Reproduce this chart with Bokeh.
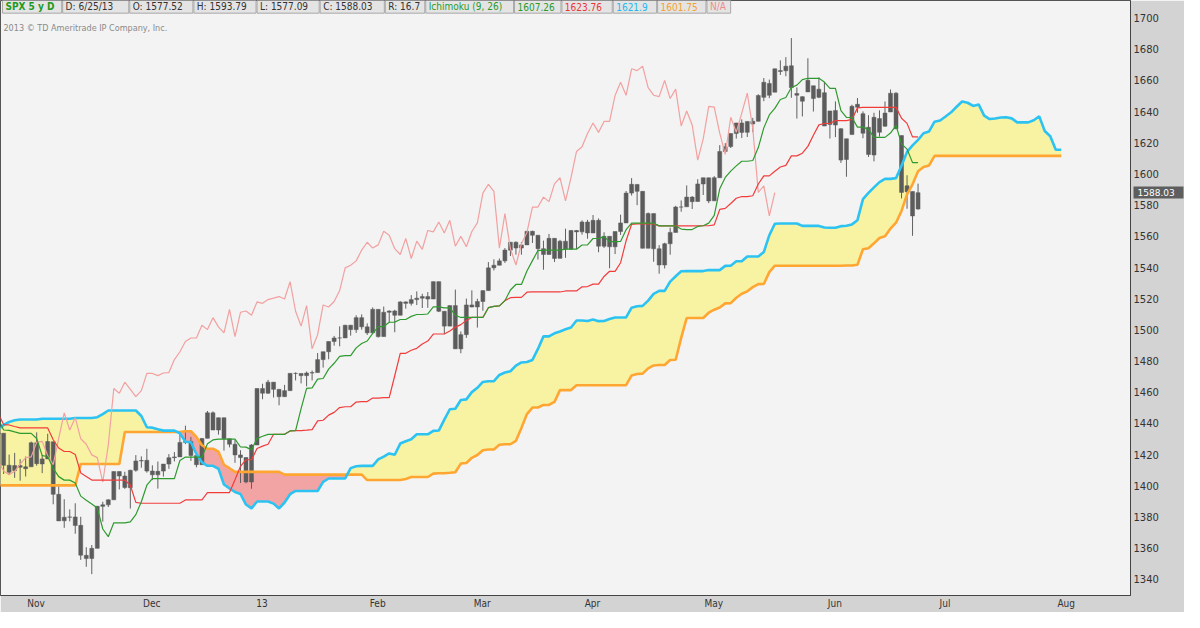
import numpy as np
from bokeh.plotting import figure
from bokeh.models import Range1d, FixedTicker, LinearAxis
from bokeh.embed import file_html
from bokeh.resources import INLINE
from bokeh.core.properties import value

# ---------------- data (bar index 0 = 22 Oct 2012, 167 = 25 Jun 2013) ----------------
opens = [1433.21, 1433.74, 1413.20, 1409.74, 1412.97, 1410.99, 1412.20, 1427.59, 1414.02, 1417.26,
         1428.27, 1394.53, 1377.55, 1379.86, 1380.03, 1374.64, 1355.41, 1353.36, 1359.88, 1386.82,
         1387.79, 1391.03, 1409.15, 1406.29, 1398.77, 1409.96, 1415.95, 1416.34, 1409.46, 1407.05,
         1409.43, 1413.95, 1418.07, 1418.55, 1427.84, 1428.48, 1419.45, 1413.54, 1430.47, 1446.79,
         1435.81, 1443.67, 1430.15, 1426.66, 1419.83, 1418.10, 1402.43, 1426.19, 1462.42, 1459.37,
         1466.47, 1461.89, 1457.15, 1461.02, 1472.12, 1472.05, 1470.67, 1472.33, 1472.63, 1480.95,
         1485.98, 1492.56, 1494.81, 1494.82, 1502.96, 1500.18, 1507.84, 1501.96, 1498.11, 1513.17,
         1495.71, 1511.29, 1512.12, 1509.39, 1517.93, 1517.01, 1519.43, 1520.33, 1521.38, 1519.79,
         1530.94, 1511.95, 1502.42, 1515.60, 1487.85, 1496.94, 1515.99, 1514.68, 1518.20, 1525.20,
         1539.79, 1541.46, 1544.26, 1551.15, 1556.22, 1552.48, 1554.52, 1563.21, 1560.70, 1552.10,
         1548.34, 1558.71, 1545.90, 1556.89, 1551.69, 1563.75, 1562.86, 1569.18, 1562.17, 1570.25,
         1553.69, 1559.98, 1553.26, 1563.11, 1568.61, 1587.73, 1593.30, 1588.84, 1552.36, 1574.57,
         1552.03, 1541.61, 1555.25, 1562.50, 1578.78, 1578.93, 1585.16, 1582.34, 1593.58, 1597.55,
         1582.77, 1597.60, 1614.40, 1617.55, 1625.95, 1632.69, 1626.69, 1632.10, 1633.75, 1649.13,
         1658.07, 1652.45, 1665.71, 1666.20, 1669.39, 1651.62, 1646.67, 1652.63, 1656.57, 1649.14,
         1652.13, 1631.71, 1640.73, 1629.05, 1609.29, 1625.27, 1644.67, 1638.64, 1629.94, 1612.15,
         1635.52, 1630.64, 1639.77, 1651.83, 1624.62, 1588.62, 1588.77, 1577.52]
highs = [1435.46, 1433.74, 1420.04, 1421.12, 1417.09, 1418.76, 1428.35, 1434.27, 1419.90, 1433.38,
         1428.27, 1401.23, 1391.39, 1384.87, 1388.81, 1380.13, 1360.62, 1362.03, 1386.89, 1389.77,
         1391.25, 1409.16, 1409.15, 1409.01, 1410.31, 1419.70, 1418.86, 1423.73, 1413.14, 1415.56,
         1413.95, 1420.34, 1421.64, 1434.27, 1438.59, 1431.36, 1419.45, 1430.67, 1448.00, 1447.75,
         1443.70, 1443.67, 1430.15, 1429.42, 1422.80, 1418.10, 1426.74, 1462.43, 1465.47, 1467.94,
         1466.47, 1461.89, 1464.73, 1472.30, 1472.75, 1472.05, 1473.31, 1473.96, 1485.16, 1485.98,
         1492.56, 1496.13, 1502.27, 1503.26, 1503.23, 1509.35, 1509.94, 1504.19, 1514.41, 1513.17,
         1514.96, 1512.53, 1512.90, 1518.31, 1518.31, 1522.29, 1524.69, 1523.14, 1524.24, 1530.94,
         1530.94, 1511.95, 1515.64, 1525.84, 1498.99, 1520.08, 1525.34, 1519.99, 1525.27, 1543.47,
         1545.25, 1545.78, 1552.48, 1556.27, 1556.77, 1556.39, 1563.32, 1563.62, 1560.70, 1557.25,
         1561.56, 1558.71, 1557.74, 1564.91, 1563.95, 1564.07, 1570.28, 1570.57, 1573.66, 1571.47,
         1562.60, 1559.98, 1563.07, 1573.89, 1589.07, 1597.35, 1593.30, 1588.84, 1575.35, 1574.57,
         1554.38, 1555.89, 1565.55, 1579.58, 1583.00, 1592.64, 1585.78, 1596.65, 1597.57, 1597.55,
         1598.60, 1618.46, 1619.77, 1626.03, 1632.78, 1635.01, 1633.70, 1636.00, 1651.10, 1661.49,
         1660.51, 1667.47, 1672.84, 1674.93, 1687.18, 1655.50, 1649.78, 1674.21, 1656.57, 1661.91,
         1658.99, 1640.42, 1646.53, 1629.31, 1622.56, 1644.40, 1648.69, 1640.13, 1637.71, 1639.25,
         1640.80, 1646.50, 1654.19, 1652.45, 1624.62, 1599.19, 1588.77, 1593.79]
lows = [1422.06, 1407.56, 1407.10, 1405.14, 1403.28, 1405.95, 1412.20, 1412.91, 1408.13, 1417.26,
        1388.14, 1377.51, 1373.03, 1377.19, 1369.26, 1352.50, 1348.05, 1343.35, 1359.88, 1377.04,
        1386.39, 1391.03, 1397.68, 1398.03, 1385.43, 1409.04, 1411.63, 1408.46, 1403.65, 1398.23,
        1405.93, 1410.90, 1415.64, 1418.55, 1426.76, 1416.00, 1411.88, 1413.54, 1430.47, 1435.80,
        1432.82, 1422.58, 1424.66, 1414.75, 1401.80, 1401.58, 1398.11, 1426.19, 1455.53, 1458.99,
        1456.62, 1451.64, 1457.15, 1461.02, 1467.58, 1465.69, 1463.76, 1467.60, 1472.63, 1475.81,
        1481.16, 1489.90, 1489.46, 1494.82, 1496.33, 1498.09, 1500.11, 1496.76, 1498.11, 1495.02,
        1495.71, 1504.71, 1498.49, 1509.39, 1513.61, 1515.61, 1515.93, 1514.02, 1514.14, 1519.79,
        1511.41, 1497.29, 1502.42, 1487.85, 1485.01, 1494.88, 1514.46, 1501.48, 1512.29, 1525.20,
        1538.11, 1541.46, 1542.94, 1547.36, 1548.24, 1548.25, 1554.52, 1555.74, 1545.13, 1538.57,
        1548.34, 1543.55, 1545.90, 1546.22, 1551.69, 1551.90, 1561.08, 1558.47, 1562.17, 1549.80,
        1552.52, 1539.50, 1548.63, 1560.92, 1568.61, 1586.17, 1579.97, 1552.28, 1552.36, 1543.69,
        1536.03, 1539.40, 1548.19, 1562.50, 1575.80, 1578.93, 1577.56, 1582.34, 1586.50, 1581.28,
        1582.77, 1597.60, 1614.21, 1616.64, 1622.70, 1623.09, 1623.71, 1626.74, 1633.75, 1646.68,
        1648.60, 1652.45, 1663.52, 1662.67, 1648.86, 1635.53, 1636.88, 1652.63, 1640.05, 1648.61,
        1630.74, 1622.72, 1623.62, 1607.09, 1598.23, 1625.27, 1639.26, 1622.92, 1610.92, 1608.07,
        1623.96, 1630.34, 1639.77, 1628.91, 1584.32, 1577.70, 1560.33, 1577.09]
closes = [1433.82, 1413.11, 1408.75, 1412.97, 1411.94, 1412.16, 1427.59, 1414.20, 1417.26, 1428.39,
          1394.53, 1377.51, 1379.85, 1380.03, 1374.53, 1355.49, 1353.33, 1359.88, 1386.89, 1387.81,
          1391.03, 1409.15, 1406.29, 1398.94, 1409.93, 1415.95, 1416.18, 1409.46, 1407.05, 1409.28,
          1413.94, 1418.07, 1418.55, 1427.84, 1428.48, 1419.45, 1413.58, 1430.36, 1446.79, 1435.81,
          1443.69, 1430.15, 1426.66, 1419.83, 1418.10, 1402.43, 1426.19, 1462.42, 1459.37, 1466.47,
          1461.89, 1457.15, 1461.02, 1472.12, 1472.05, 1470.68, 1472.34, 1472.63, 1480.94, 1485.98,
          1492.56, 1494.81, 1494.82, 1502.96, 1500.18, 1507.84, 1501.96, 1498.11, 1513.17, 1495.71,
          1511.29, 1512.12, 1509.39, 1517.93, 1517.01, 1519.43, 1520.33, 1521.38, 1519.79, 1530.94,
          1511.95, 1502.42, 1515.60, 1487.85, 1496.94, 1515.99, 1514.68, 1518.20, 1525.20, 1539.79,
          1541.46, 1544.26, 1551.18, 1556.22, 1552.48, 1554.52, 1563.23, 1560.70, 1552.10, 1548.34,
          1558.71, 1545.80, 1556.89, 1551.69, 1563.77, 1562.85, 1569.19, 1562.17, 1570.25, 1553.69,
          1559.98, 1553.28, 1563.07, 1568.61, 1587.73, 1593.37, 1588.85, 1552.36, 1574.57, 1552.01,
          1541.61, 1555.25, 1562.50, 1578.78, 1578.79, 1585.16, 1582.24, 1593.61, 1597.57, 1582.70,
          1597.59, 1614.42, 1617.50, 1625.96, 1632.69, 1626.67, 1633.70, 1633.77, 1650.34, 1658.78,
          1650.47, 1667.47, 1666.29, 1669.16, 1655.35, 1650.51, 1649.60, 1660.06, 1648.36, 1654.41,
          1630.74, 1640.42, 1631.38, 1608.90, 1622.56, 1643.38, 1642.81, 1626.13, 1612.52, 1636.36,
          1626.73, 1639.04, 1651.81, 1628.93, 1588.19, 1592.43, 1573.09, 1588.03]
tenkan = [1443.00, 1435.80, 1435.56, 1434.58, 1433.65, 1433.65, 1433.65, 1430.31, 1419.37, 1418.78,
          1411.21, 1405.89, 1403.65, 1403.65, 1401.77, 1393.39, 1390.72, 1388.37, 1385.81, 1372.29,
          1367.37, 1376.26, 1376.26, 1376.26, 1376.83, 1381.53, 1389.79, 1400.39, 1404.58, 1404.58,
          1404.58, 1404.58, 1404.58, 1416.25, 1418.41, 1418.41, 1418.41, 1418.41, 1426.97, 1429.45,
          1429.94, 1429.94, 1429.94, 1429.94, 1424.90, 1424.79, 1423.06, 1430.27, 1431.79, 1433.03,
          1433.03, 1433.03, 1433.03, 1435.21, 1435.43, 1449.47, 1462.48, 1462.80, 1468.40, 1468.81,
          1474.86, 1478.58, 1483.02, 1483.51, 1483.51, 1488.48, 1491.29, 1492.88, 1497.79, 1501.94,
          1502.21, 1504.89, 1504.99, 1506.67, 1506.67, 1508.66, 1509.86, 1509.86, 1510.20, 1514.72,
          1514.72, 1514.12, 1514.12, 1509.40, 1507.98, 1507.98, 1507.98, 1507.98, 1507.98, 1514.24,
          1515.13, 1515.40, 1518.75, 1525.58, 1529.13, 1529.13, 1537.81, 1544.41, 1550.87, 1551.10,
          1551.10, 1551.10, 1551.10, 1551.74, 1551.74, 1551.74, 1554.43, 1554.57, 1558.61, 1558.61,
          1559.78, 1556.58, 1556.58, 1556.70, 1564.29, 1568.43, 1568.43, 1568.43, 1568.43, 1568.43,
          1566.69, 1566.69, 1566.69, 1566.69, 1564.67, 1564.34, 1564.34, 1566.34, 1566.80, 1568.49,
          1573.40, 1590.48, 1597.79, 1601.80, 1605.17, 1608.15, 1608.15, 1608.64, 1616.94, 1629.55,
          1637.85, 1642.06, 1647.77, 1649.01, 1655.45, 1656.96, 1660.47, 1661.36, 1661.36, 1661.36,
          1658.96, 1654.95, 1654.95, 1640.65, 1636.22, 1636.22, 1630.07, 1630.07, 1628.61, 1623.46,
          1623.46, 1623.46, 1626.21, 1631.13, 1619.26, 1615.95, 1607.26, 1607.26]
kijun = [1446.51, 1439.26, 1439.03, 1438.05, 1437.12, 1437.12, 1437.12, 1437.12, 1437.12, 1437.12,
         1429.55, 1424.24, 1422.00, 1422.00, 1420.11, 1408.26, 1406.04, 1403.69, 1403.69, 1403.69,
         1403.69, 1403.69, 1403.69, 1403.69, 1400.35, 1389.41, 1388.81, 1388.81, 1388.81, 1388.81,
         1388.81, 1388.81, 1388.81, 1388.81, 1390.97, 1390.97, 1390.97, 1390.97, 1395.68, 1395.68,
         1395.68, 1395.68, 1395.68, 1403.94, 1412.52, 1416.72, 1416.72, 1423.93, 1425.45, 1426.69,
         1433.03, 1433.03, 1433.03, 1435.21, 1435.43, 1435.43, 1435.71, 1436.04, 1441.64, 1442.05,
         1445.34, 1447.12, 1450.19, 1450.69, 1450.69, 1453.73, 1454.03, 1454.03, 1456.26, 1456.26,
         1456.54, 1456.54, 1470.58, 1484.98, 1484.98, 1486.97, 1488.17, 1490.92, 1492.86, 1497.35,
         1497.35, 1497.35, 1499.27, 1501.79, 1503.38, 1506.05, 1507.98, 1507.98, 1507.98, 1514.24,
         1515.13, 1515.40, 1518.75, 1520.64, 1520.89, 1520.89, 1524.17, 1524.32, 1524.32, 1524.32,
         1524.32, 1524.32, 1524.32, 1524.96, 1524.96, 1524.96, 1527.65, 1527.79, 1529.34, 1529.34,
         1534.27, 1537.57, 1537.57, 1543.09, 1557.14, 1567.73, 1567.96, 1567.96, 1567.96, 1567.96,
         1566.69, 1566.69, 1566.69, 1566.69, 1566.69, 1566.69, 1566.69, 1566.69, 1566.80, 1566.80,
         1567.32, 1577.25, 1577.90, 1581.03, 1584.41, 1585.52, 1585.52, 1586.02, 1593.57, 1598.76,
         1598.76, 1601.75, 1604.44, 1605.48, 1611.61, 1611.61, 1613.29, 1617.69, 1624.84, 1631.49,
         1632.37, 1632.37, 1634.23, 1634.23, 1634.23, 1634.98, 1642.39, 1642.71, 1642.71, 1642.71,
         1642.71, 1642.71, 1642.71, 1642.71, 1635.75, 1632.44, 1623.76, 1623.76]
# leading spans, index 0 .. 193 (projected 26 bars ahead)
senkou_a = [1436.0, 1439.0, 1441.0, 1442.0, 1442.5, 1442.5, 1442.5, 1442.5, 1443.0, 1443.0,
            1443.0, 1443.0, 1443.0, 1443.0, 1443.5, 1443.5, 1443.5, 1443.5, 1444.0, 1446.0,
            1448.3, 1448.3, 1448.3, 1448.3, 1448.3, 1448.3, 1444.75, 1437.53, 1437.30, 1436.32,
            1435.39, 1435.39, 1435.39, 1433.72, 1428.25, 1427.95, 1420.38, 1415.07, 1412.83, 1412.83,
            1410.94, 1400.83, 1398.38, 1396.03, 1394.75, 1387.99, 1385.53, 1389.98, 1389.98, 1389.98,
            1388.59, 1385.47, 1389.30, 1394.60, 1396.70, 1396.70, 1396.70, 1396.70, 1396.70, 1402.53,
            1404.69, 1404.69, 1404.69, 1404.69, 1411.33, 1412.57, 1412.81, 1412.81, 1412.81, 1416.94,
            1418.71, 1420.76, 1419.89, 1427.10, 1428.62, 1429.86, 1433.03, 1433.03, 1433.03, 1435.21,
            1435.43, 1442.45, 1449.10, 1449.42, 1455.02, 1455.43, 1460.10, 1462.85, 1466.61, 1467.10,
            1467.10, 1471.11, 1472.66, 1473.46, 1477.03, 1479.10, 1479.38, 1480.72, 1487.79, 1495.83,
            1495.83, 1497.82, 1499.02, 1500.39, 1501.53, 1506.04, 1506.04, 1505.74, 1506.70, 1505.60,
            1505.68, 1507.02, 1507.98, 1507.98, 1507.98, 1514.24, 1515.13, 1515.40, 1518.75, 1523.11,
            1525.01, 1525.01, 1530.99, 1534.37, 1537.60, 1537.71, 1537.71, 1537.71, 1537.71, 1538.35,
            1538.35, 1538.35, 1541.04, 1541.18, 1543.98, 1543.98, 1547.03, 1547.08, 1547.08, 1549.90,
            1560.72, 1568.08, 1568.20, 1568.20, 1568.20, 1568.20, 1566.69, 1566.69, 1566.69, 1566.69,
            1565.68, 1565.52, 1565.52, 1566.52, 1566.80, 1567.65, 1570.36, 1583.87, 1587.85, 1591.42,
            1594.79, 1596.84, 1596.84, 1597.33, 1605.26, 1614.16, 1618.31, 1621.91, 1626.11, 1627.25,
            1633.53, 1634.29, 1636.88, 1639.53, 1643.10, 1646.43, 1645.67, 1643.66, 1644.59, 1637.44,
            1635.23, 1635.60, 1636.23, 1636.39, 1635.66, 1633.09, 1633.09, 1633.09, 1634.46, 1636.92,
            1627.51, 1624.20, 1615.51, 1615.51]
senkou_b = [1400.3, 1400.3, 1400.3, 1400.3, 1400.3, 1400.3, 1400.3, 1400.3, 1400.3, 1400.3,
            1400.3, 1400.3, 1400.3, 1400.3, 1400.3, 1414.0, 1414.0, 1414.0, 1414.0, 1414.0,
            1414.0, 1414.0, 1414.0, 1434.5, 1434.5, 1434.5, 1434.5, 1434.5, 1434.5, 1434.5,
            1434.5, 1434.5, 1434.5, 1434.5, 1435.0, 1435.0, 1431.30, 1426.00, 1423.77, 1423.77,
            1421.90, 1413.50, 1411.28, 1408.93, 1408.93, 1408.93, 1408.93, 1408.93, 1408.93, 1408.93,
            1408.93, 1408.93, 1407.16, 1407.16, 1407.16, 1407.16, 1407.16, 1407.16, 1407.16, 1407.16,
            1407.16, 1407.16, 1407.16, 1407.16, 1407.16, 1407.16, 1407.16, 1403.69, 1403.69, 1403.69,
            1403.69, 1403.69, 1403.69, 1403.69, 1404.41, 1405.65, 1405.65, 1405.65, 1405.65, 1407.83,
            1408.05, 1408.05, 1408.33, 1408.66, 1414.26, 1414.67, 1417.96, 1419.74, 1422.81, 1423.31,
            1423.31, 1426.35, 1426.65, 1426.65, 1428.88, 1437.15, 1446.00, 1450.20, 1450.20, 1451.87,
            1451.87, 1453.86, 1461.40, 1461.40, 1461.40, 1464.53, 1464.53, 1464.53, 1464.53, 1464.53,
            1464.53, 1464.53, 1464.53, 1464.53, 1464.53, 1470.79, 1471.68, 1471.95, 1475.30, 1477.19,
            1477.44, 1477.44, 1480.72, 1480.87, 1494.91, 1507.63, 1507.63, 1507.63, 1507.63, 1511.03,
            1512.97, 1514.34, 1517.02, 1517.17, 1520.63, 1523.15, 1524.74, 1527.41, 1529.34, 1529.45,
            1537.04, 1541.18, 1541.18, 1541.18, 1541.18, 1541.18, 1541.18, 1541.18, 1541.18, 1541.18,
            1541.18, 1541.18, 1541.18, 1541.18, 1541.29, 1541.29, 1541.81, 1551.74, 1552.39, 1555.52,
            1558.90, 1560.01, 1564.95, 1568.74, 1576.29, 1586.89, 1593.35, 1601.75, 1604.44, 1605.48,
            1611.61, 1611.61, 1611.61, 1611.61, 1611.61, 1611.61, 1611.61, 1611.61, 1611.61, 1611.61,
            1611.61, 1611.61, 1611.61, 1611.61, 1611.61, 1611.61, 1611.61, 1611.61, 1611.61, 1611.61,
            1611.61, 1611.61, 1611.61, 1611.61]
CHIKOU_SHIFT = 26
month_labels = ["Nov", "Dec", "13", "Feb", "Mar", "Apr", "May", "Jun", "Jul", "Aug"]
month_first_bar = [6, 27, 47, 68, 87, 107, 129, 151, 171, 193]
price_ticks = list(range(1340, 1701, 20))
symbol_item = ("SPX 5 y D", 2, 62, "#1f9a1f")
header_items = [
    ("D: 6/25/13", 63, 130, "#333333"),
    ("O: 1577.52", 131, 195, "#333333"), ("H: 1593.79", 196, 259, "#333333"),
    ("L: 1577.09", 260, 323, "#333333"), ("C: 1588.03", 324, 389, "#333333"),
    ("R: 16.7", 390, 430, "#333333"), ("Ichimoku (9, 26)", 431, 520, "#2a9a2a"),
    ("1607.26", 521, 568, "#2a9a2a"), ("1623.76", 569, 620, "#ee3333"),
    ("1621.9", 621, 665, "#22b8ee"), ("1601.75", 666, 715, "#f5a030"),
    ("N/A", 716, 740, "#f08a8a"),
]
last_price = 1588.03

# ---------------- layout helpers: reference pixel -> data coordinate ----------------
W, H = 1184, 612
SX, SY = W / 1200, H / 628
BAR_PX, REF_BAR, REF_PX = 5.583, 17, 92.5
PX_PER_PT = 1.6
def bx(px):
    return REF_BAR + (px - REF_PX) / BAR_PX
def by(py):
    return 1700 - (py - 18) / PX_PER_PT

FRAME_W, FRAME_H = 1130, 595
p = figure(width=W, height=H, output_backend="svg", toolbar_location=None,
           x_range=Range1d(bx(0), bx(FRAME_W / SX)), y_range=Range1d(by(FRAME_H / SY), by(0)),
           y_axis_location="right", min_border_left=0, min_border_top=0,
           min_border_right=W - FRAME_W, min_border_bottom=H - FRAME_H)
p.background_fill_color = "#f3f3f3"
p.border_fill_color = "#d3d3d3"
p.outline_line_color = "#555555"
p.grid.visible = False

idx = np.arange(len(closes))
jdx = np.arange(len(senkou_a))
sa = np.array(senkou_a)
sb = np.array(senkou_b)
top = np.maximum(sa, sb)

# cloud
p.varea(x=jdx, y1=sb, y2=top, fill_color="#f7f3a3")
p.varea(x=jdx, y1=sa, y2=top, fill_color="#f2a4a4")

# candles
o = np.array(opens); c = np.array(closes)
p.segment(x0=idx, y0=lows, x1=idx, y1=highs, line_color="#606060", line_width=1)
p.vbar(x=idx, width=0.72, top=np.maximum(o, c), bottom=np.minimum(o, c),
       fill_color="#5c5c5c", line_color="#5c5c5c", line_width=0.5)

# indicator lines
p.line(jdx, sb, line_color="#ffa632", line_width=2.6)
p.line(jdx, sa, line_color="#2cc3f2", line_width=2.6)
p.line(idx[CHIKOU_SHIFT:] - CHIKOU_SHIFT, c[CHIKOU_SHIFT:], line_color="#f2a0a0", line_width=1.2)
p.line(idx, kijun, line_color="#f23c3c", line_width=1.2)
p.line(idx, tenkan, line_color="#2f9a2f", line_width=1.2)

# axes
FONT = "DejaVu Sans"
p.yaxis.ticker = FixedTicker(ticks=price_ticks)
p.yaxis.major_label_text_font = FONT
p.yaxis.major_label_text_font_size = "10px"
p.yaxis.major_label_text_color = "#333333"
p.yaxis.major_tick_out = 0
p.yaxis.major_tick_in = 0
p.yaxis.minor_tick_out = 0
p.yaxis.minor_tick_in = 0
p.yaxis.major_label_standoff = 3
p.yaxis.axis_line_color = "#444444"

# last-price tag: an outer price axis with one tick, its thick tick line forms the dark box
tag_axis = LinearAxis(ticker=FixedTicker(ticks=[last_price]),
                      major_label_overrides={last_price: f"{last_price:.2f}"},
                      axis_line_color=None, minor_tick_line_color=None,
                      major_tick_in=28, major_tick_out=22, major_tick_line_width=12,
                      major_tick_line_color="#5e5e5e", major_tick_line_cap="butt",
                      major_label_standoff=-46, major_label_text_color="#ffffff",
                      major_label_text_font=FONT, major_label_text_font_size="9px")
p.add_layout(tag_axis, "right")

xt = [b + 0.9 for b in month_first_bar]
p.xaxis.ticker = FixedTicker(ticks=xt)
p.xaxis.major_label_overrides = {t: lab for t, lab in zip(xt, month_labels)}
p.xaxis.major_label_text_font = "DejaVu Sans Condensed"
p.xaxis.major_label_text_font_size = "10px"
p.xaxis.major_label_text_color = "#333333"
p.xaxis.major_tick_out = 0
p.xaxis.major_tick_in = 0
p.xaxis.minor_tick_out = 0
p.xaxis.minor_tick_in = 0
p.xaxis.major_label_standoff = 2
p.xaxis.axis_line_color = "#444444"

# header bar
all_items = [symbol_item] + header_items
p.quad(left=[bx(a) for _, a, _, _ in all_items], right=[bx(b) for _, _, b, _ in all_items],
       top=by(0), bottom=by(13), fill_color="#e4e4e4", line_color="#a8a8a8", line_width=1)
p.text(x=[bx(symbol_item[1] + 3)], y=[by(6.5)], text=[symbol_item[0]], text_color=symbol_item[3],
       text_font=value("DejaVu Sans Condensed"), text_font_style="bold", text_font_size="10px",
       text_baseline="middle")
p.text(x=[bx(a + 3) for _, a, _, _ in header_items], y=by(6.5),
       text=[t for t, _, _, _ in header_items], text_color=[col for _, _, _, col in header_items],
       text_font=value("DejaVu Sans Condensed"), text_font_size="10px", text_baseline="middle")
p.text(x=[bx(3)], y=[by(28)], text=["2013 \u00a9 TD Ameritrade IP Company, Inc."],
       text_color="#8a8a8a", text_font=value("DejaVu Sans Condensed"), text_font_size="9px",
       text_baseline="middle")

open("out.html", "w").write(file_html(p, INLINE))
